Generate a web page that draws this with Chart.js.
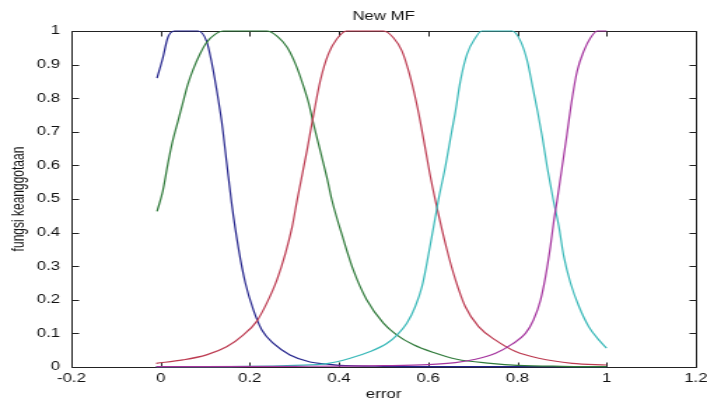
<!DOCTYPE html>
<html>
<head>
<meta charset="utf-8">
<script src="https://cdn.jsdelivr.net/npm/chart.js@4.4.1/dist/chart.umd.min.js"></script>
<style>
  html, body { margin: 0; padding: 0; background: #fff; overflow: hidden; }
  /* figure is drawn narrow and stretched sideways, like the exported plot */
  #wrap { width: 505px; height: 403px; transform: scaleX(1.4); transform-origin: 0 0; }
</style>
</head>
<body>
<div id="wrap"><canvas id="mfChart" width="505" height="403"></canvas></div>
<script>
// Axis ticks
const xTicks = [-0.2, 0, 0.2, 0.4, 0.6, 0.8, 1, 1.2];
const xTickLabels = ['-0.2', '0', '0.2', '0.4', '0.6', '0.8', '1', '1.2'];
const yTicks = [0, 0.1, 0.2, 0.3, 0.4, 0.5, 0.6, 0.7, 0.8, 0.9, 1];
const yTickLabels = ['0', '0.1', '0.2', '0.3', '0.4', '0.5', '0.6', '0.7', '0.8', '0.9', '1'];

// Membership functions, [error, degree] pairs
const mfBlue = [
  [-0.008, 0.86], [0.005, 0.92], [0.016, 0.98], [0.031, 1], [0.084, 1], [0.103, 0.97],
  [0.114, 0.91], [0.125, 0.83], [0.137, 0.73], [0.148, 0.61], [0.159, 0.49], [0.175, 0.35],
  [0.19, 0.25], [0.208, 0.17], [0.227, 0.11], [0.253, 0.07], [0.29, 0.036], [0.335, 0.015],
  [0.37, 0.009], [0.4, 0.005], [0.5, 0.002], [0.7, 0.001], [1, 0.001]
];
const mfGreen = [
  [-0.008, 0.463], [0.005, 0.524], [0.016, 0.603], [0.027, 0.673], [0.039, 0.732], [0.05, 0.787],
  [0.061, 0.841], [0.073, 0.886], [0.088, 0.931], [0.103, 0.966], [0.122, 0.99], [0.141, 1],
  [0.238, 1], [0.261, 0.985], [0.284, 0.951], [0.303, 0.9], [0.318, 0.845], [0.333, 0.78],
  [0.343, 0.722], [0.358, 0.643], [0.373, 0.563], [0.384, 0.497], [0.41, 0.379], [0.432, 0.289],
  [0.462, 0.2], [0.5, 0.13], [0.53, 0.095], [0.567, 0.066], [0.612, 0.043], [0.664, 0.023],
  [0.74, 0.011], [0.8, 0.005], [0.9, 0.002], [1, 0.001]
];
const mfRed = [
  [-0.01, 0.011], [0.05, 0.021], [0.103, 0.036], [0.148, 0.06], [0.185, 0.095], [0.215, 0.135],
  [0.238, 0.19], [0.261, 0.26], [0.28, 0.339], [0.295, 0.418], [0.306, 0.496], [0.313, 0.543],
  [0.328, 0.643], [0.343, 0.752], [0.358, 0.852], [0.376, 0.931], [0.395, 0.976], [0.417, 1],
  [0.5, 1], [0.522, 0.98], [0.541, 0.941], [0.556, 0.881], [0.571, 0.802], [0.582, 0.732],
  [0.593, 0.653], [0.604, 0.573], [0.616, 0.496], [0.642, 0.349], [0.661, 0.26], [0.683, 0.18],
  [0.713, 0.12], [0.751, 0.08], [0.796, 0.046], [0.848, 0.026], [0.923, 0.011], [1, 0.006]
];
const mfCyan = [
  [-0.01, 0.001], [0.2, 0.002], [0.3, 0.005], [0.373, 0.01], [0.425, 0.026], [0.47, 0.046],
  [0.507, 0.07], [0.53, 0.095], [0.552, 0.13], [0.571, 0.18], [0.586, 0.239], [0.597, 0.309],
  [0.608, 0.388], [0.619, 0.468], [0.623, 0.498], [0.638, 0.593], [0.653, 0.703], [0.661, 0.76],
  [0.672, 0.85], [0.687, 0.931], [0.706, 0.98], [0.72, 1], [0.788, 1], [0.807, 0.97],
  [0.822, 0.911], [0.833, 0.841], [0.845, 0.762], [0.856, 0.683], [0.867, 0.593], [0.88, 0.5],
  [0.893, 0.418], [0.904, 0.329], [0.919, 0.25], [0.938, 0.18], [0.96, 0.12], [0.983, 0.08],
  [1, 0.056]
];
const mfMagenta = [
  [-0.01, 0.001], [0.3, 0.002], [0.5, 0.004], [0.6, 0.007], [0.661, 0.013], [0.706, 0.023],
  [0.751, 0.041], [0.788, 0.068], [0.818, 0.1], [0.836, 0.14], [0.852, 0.2], [0.863, 0.269],
  [0.874, 0.359], [0.882, 0.438], [0.889, 0.496], [0.9, 0.593], [0.911, 0.692], [0.923, 0.802],
  [0.934, 0.881], [0.949, 0.941], [0.964, 0.98], [0.979, 1], [1, 1]
];

const series = [
  { data: mfBlue, color: '#24248c' },
  { data: mfGreen, color: '#2f7a3a' },
  { data: mfRed, color: '#bc3a50' },
  { data: mfCyan, color: '#38b8b8' },
  { data: mfMagenta, color: '#a4349e' }
];

const font = { family: "'Liberation Sans', Arial, sans-serif", size: 12 };

// box around the axes with inward ticks on all four sides
const axesFrame = {
  id: 'axesFrame',
  beforeDatasetsDraw(chart) {
    const { ctx, scales: { x, y } } = chart;
    const snap = v => Math.round(v) + 0.5;
    const L = snap(x.getPixelForValue(x.min)), R = snap(x.getPixelForValue(x.max));
    const T = snap(y.getPixelForValue(y.max)), B = snap(y.getPixelForValue(y.min));
    ctx.save();
    ctx.strokeStyle = '#222';
    ctx.lineWidth = 1;
    ctx.beginPath();
    ctx.rect(L, T, R - L, B - T);
    xTicks.forEach(v => {
      const px = snap(x.getPixelForValue(v));
      ctx.moveTo(px, B); ctx.lineTo(px, B - 5);
      ctx.moveTo(px, T); ctx.lineTo(px, T + 5);
    });
    yTicks.forEach(v => {
      const py = snap(y.getPixelForValue(v));
      ctx.moveTo(L, py); ctx.lineTo(L + 5, py);
      ctx.moveTo(R, py); ctx.lineTo(R - 5, py);
    });
    ctx.stroke();
    ctx.restore();
  }
};

const ctx = document.getElementById('mfChart').getContext('2d');
const mfChart = new Chart(ctx, {
  type: 'line',
  data: {
    datasets: series.map((s, i) => ({
      data: s.data.map(([x, y]) => ({ x, y })),
      borderColor: s.color,
      borderWidth: 1.2,
      pointRadius: 0,
      fill: false,
      cubicInterpolationMode: 'monotone',
      clip: false,
      order: series.length - i
    }))
  },
  options: {
    responsive: false,
    animation: false,
    devicePixelRatio: 1,
    layout: { padding: { left: 0, right: 8, top: 0, bottom: 0 } },
    plugins: {
      legend: { display: false },
      tooltip: { enabled: false },
      title: {
        display: true,
        text: 'New MF',
        fullSize: false,
        color: '#111',
        font: { ...font, weight: 'normal' },
        padding: { top: 9.5, bottom: 7.1 }
      }
    },
    scales: {
      x: {
        type: 'linear',
        min: -0.2,
        max: 1.2,
        grid: { display: false, drawTicks: false },
        border: { display: false },
        afterBuildTicks: s => { s.ticks = xTicks.map(v => ({ value: v })); },
        afterFit: s => { s.height = 36; s.paddingLeft = 0; s.paddingRight = 0; },
        ticks: {
          color: '#111',
          font,
          padding: 4,
          maxRotation: 0,
          autoSkip: false,
          callback: (v, i) => xTickLabels[i]
        },
        title: { display: true, text: 'error', color: '#111', font, padding: { top: 0, bottom: 1 } }
      },
      y: {
        min: 0,
        max: 1,
        grid: { display: false, drawTicks: false },
        border: { display: false },
        afterBuildTicks: s => { s.ticks = yTicks.map(v => ({ value: v })); },
        afterFit: s => { s.width = 51; s.paddingTop = 0; s.paddingBottom = 0; },
        ticks: {
          color: '#111',
          font,
          padding: 8,
          autoSkip: false,
          callback: (v, i) => yTickLabels[i]
        },
        title: { display: true, text: 'fungsi keanggotaan', color: '#111', font, padding: { top: 6, bottom: 0 } }
      }
    }
  },
  plugins: [axesFrame]
});
</script>
</body>
</html>
